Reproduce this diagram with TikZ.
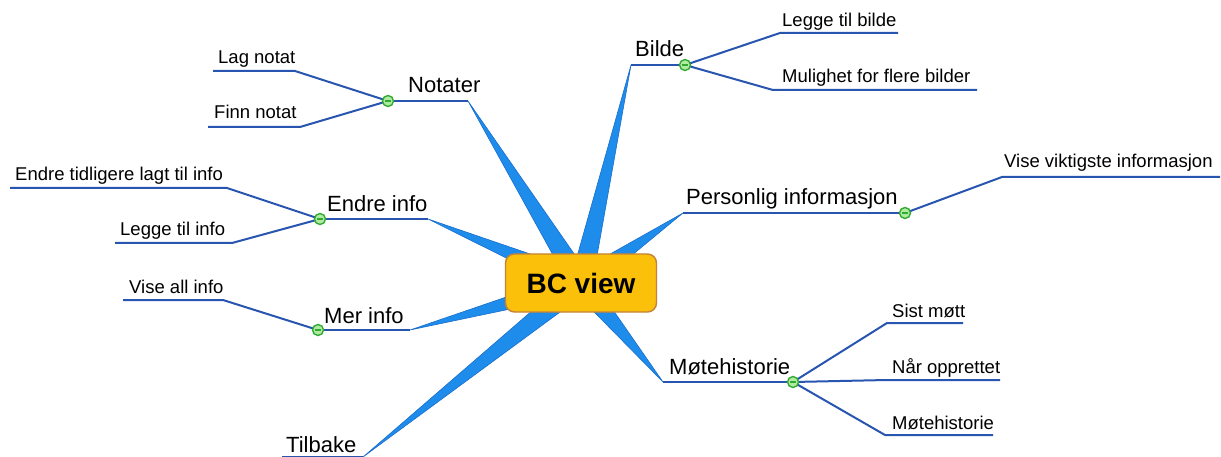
\documentclass[tikz,border=0pt]{standalone}
\usepackage{fontspec}
\setmainfont{Liberation Sans}
\usetikzlibrary{calc}
\definecolor{spoke}{RGB}{30,140,235}
\definecolor{spokeedge}{RGB}{25,110,205}
\definecolor{twig}{RGB}{40,85,175}
\definecolor{hubfill}{RGB}{250,192,10}
\definecolor{hubedge}{RGB}{195,130,55}
\definecolor{knobline}{RGB}{50,170,50}
\definecolor{knobfill}{RGB}{175,235,160}
\tikzset{
  hubbox/.style={draw=hubedge, line width=1.4pt, fill=hubfill, rounded corners=9pt,
    minimum width=151pt, minimum height=58pt, inner sep=0pt,
    font=\fontsize{28}{30}\selectfont\bfseries},
  mainlbl/.style={anchor=base west, inner sep=0pt, font=\fontsize{22}{24}\selectfont},
  sublbl/.style={anchor=base west, inner sep=0pt, font=\fontsize{18.5}{20}\selectfont},
  twigline/.style={draw=twig, line width=2pt, line join=round},
  knob/.style={circle, draw=knobline, fill=knobfill, line width=1.4pt,
    minimum size=11pt, inner sep=0pt,
    path picture={\draw[knobline, line width=1.1pt]
      ([xshift=-3pt]path picture bounding box.center) -- ([xshift=3pt]path picture bounding box.center);}},
}
% tapered spoke from the hub to a branch end
\newcommand\spokeTo[1]{%
  \filldraw[fill=spoke, draw=spokeedge, line width=0.6pt, line join=round]
    ($(hub)!11pt!90:(#1)$) -- (#1) -- ($(hub)!11pt!-90:(#1)$) -- cycle;}
\begin{document}
\begin{tikzpicture}[x=1pt, y=-1pt]
\useasboundingbox (0,0) rectangle (1221,457);
\coordinate (hub) at (581,283);

% ---- branch ends (where spokes meet the underlines)
\coordinate (notE) at (468,101);
\coordinate (bilE) at (631,65);
\coordinate (endE) at (428,219);
\coordinate (perE) at (683,213);
\coordinate (merE) at (410,330);
\coordinate (tilE) at (363,457);
\coordinate (motE) at (663,382);

% ---- spokes
\spokeTo{notE}
\spokeTo{bilE}
\spokeTo{endE}
\spokeTo{perE}
\spokeTo{merE}
\spokeTo{tilE}
\spokeTo{motE}

% ---- central topic
\node[hubbox] (bc) at (hub) {BC view};

% ---- main topic labels
\node[mainlbl] (notater) at (408,93) {Notater};
\node[mainlbl] (bilde) at (635,57) {Bilde};
\node[mainlbl] (endre) at (327,212) {Endre info};
\node[mainlbl] (person) at (686,205) {Personlig informasjon};
\node[mainlbl] (mer) at (324,323) {Mer info};
\node[mainlbl] (tilbake) at (286,452) {Tilbake};
\node[mainlbl] (mote) at (669,374) {Møtehistorie};

% ---- collapse knobs
\coordinate (notK) at (388,101);
\coordinate (bilK) at (685,65);
\coordinate (endK) at (320,219);
\coordinate (perK) at (905,213);
\coordinate (merK) at (318,330);
\coordinate (motK) at (793,382);

% ---- main underlines
\draw[twigline] (notE) -- (notK);
\draw[twigline] (bilE) -- (bilK);
\draw[twigline] (endE) -- (endK);
\draw[twigline] (perE) -- (perK);
\draw[twigline] (merE) -- (merK);
\draw[twigline] (tilE) -- (282,457);
\draw[twigline] (motE) -- (motK);

% ---- sub topic labels
\node[sublbl] (lag) at (218,64) {Lag notat};
\node[sublbl] (finn) at (214,119) {Finn notat};
\node[sublbl] (leggb) at (782,27) {Legge til bilde};
\node[sublbl] (mulig) at (782,83) {Mulighet for flere bilder};
\node[sublbl] (endtid) at (15,181) {Endre tidligere lagt til info};
\node[sublbl] (leggi) at (120,236) {Legge til info};
\node[sublbl] (vvik) at (1004,168) {Vise viktigste informasjon};
\node[sublbl] (vall) at (129,294) {Vise all info};
\node[sublbl] (sist) at (892,317) {Sist møtt};
\node[sublbl] (naar) at (892,373) {Når opprettet};
\node[sublbl] (motsub) at (892,429) {Møtehistorie};

% ---- sub topic connectors
\coordinate (lagA) at (295,71);   \coordinate (lagB) at (213,71);
\coordinate (finnA) at (300,127); \coordinate (finnB) at (208,127);
\coordinate (lbA) at (780,33);    \coordinate (lbB) at (898,33);
\coordinate (muA) at (773,90);    \coordinate (muB) at (977,90);
\coordinate (etA) at (227,188);   \coordinate (etB) at (10,188);
\coordinate (liA) at (232,243);   \coordinate (liB) at (115,243);
\coordinate (vvA) at (1002,177);  \coordinate (vvB) at (1220,177);
\coordinate (vaA) at (223,300);   \coordinate (vaB) at (123,300);
\coordinate (siA) at (887,323);   \coordinate (siB) at (963,323);
\coordinate (naA) at (887,380);   \coordinate (naB) at (1000,380);
\coordinate (msA) at (885,435);   \coordinate (msB) at (993,435);

\draw[twigline] (notK) -- (lagA) -- (lagB);
\draw[twigline] (notK) -- (finnA) -- (finnB);
\draw[twigline] (bilK) -- (lbA) -- (lbB);
\draw[twigline] (bilK) -- (muA) -- (muB);
\draw[twigline] (endK) -- (etA) -- (etB);
\draw[twigline] (endK) -- (liA) -- (liB);
\draw[twigline] (perK) -- (vvA) -- (vvB);
\draw[twigline] (merK) -- (vaA) -- (vaB);
\draw[twigline] (motK) -- (siA) -- (siB);
\draw[twigline] (motK) -- (naA) -- (naB);
\draw[twigline] (motK) -- (msA) -- (msB);

% ---- knobs on top
\node[knob] (notKn) at (notK) {};
\node[knob] (bilKn) at (bilK) {};
\node[knob] (endKn) at (endK) {};
\node[knob] (perKn) at (perK) {};
\node[knob] (merKn) at (merK) {};
\node[knob] (motKn) at (motK) {};
\end{tikzpicture}
\end{document}
